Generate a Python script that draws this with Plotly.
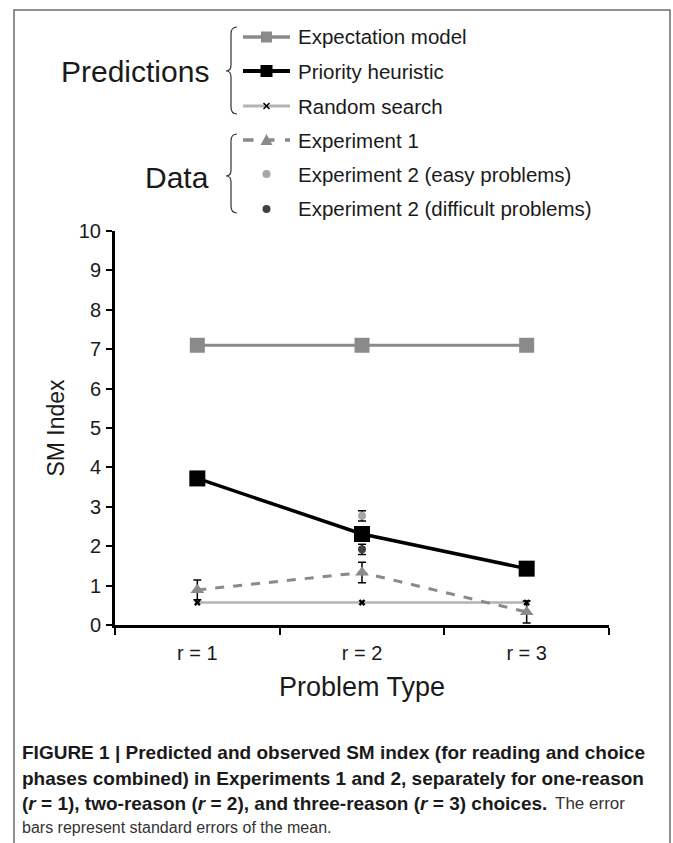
import plotly.graph_objects as go

# ---------------- data ----------------
categories = ["r = 1", "r = 2", "r = 3"]
expectation_model = [7.1, 7.1, 7.1]
priority_heuristic = [3.72, 2.31, 1.43]
random_search = [0.57, 0.57, 0.57]
experiment1 = [0.89, 1.33, 0.33]
experiment1_se = [0.25, 0.26, 0.28]
exp2_category = ["r = 2"]
exp2_easy = [2.77]
exp2_easy_se = [0.13]
exp2_difficult = [1.92]
exp2_difficult_se = [0.13]
y_ticks = [0, 1, 2, 3, 4, 5, 6, 7, 8, 9, 10]

W, H = 673, 843
PL, PR, PT, PB = 115, 609, 231, 625  # plot area in pixels

def px(x):
    return x / W

def py(y):
    return 1 - y / H

FONT = "Liberation Sans, Arial, Helvetica, sans-serif"

fig = go.Figure()

err_style = dict(type="data", color="black", thickness=1.5, width=4)

fig.add_trace(go.Scatter(
    x=categories, y=random_search, mode="lines+markers", name="Random search",
    line=dict(color="#b3b3b3", width=2.5),
    marker=dict(symbol="x", size=6, color="black"), cliponaxis=False))
fig.add_trace(go.Scatter(
    x=categories, y=expectation_model, mode="lines+markers", name="Expectation model",
    line=dict(color="#8a8a8a", width=3),
    marker=dict(symbol="square", size=15, color="#8a8a8a"), cliponaxis=False))
fig.add_trace(go.Scatter(
    x=categories, y=priority_heuristic, mode="lines+markers", name="Priority heuristic",
    line=dict(color="black", width=3.5),
    marker=dict(symbol="square", size=16, color="black"), cliponaxis=False))
fig.add_trace(go.Scatter(
    x=categories, y=experiment1, mode="lines+markers", name="Experiment 1",
    line=dict(color="#8a8a8a", width=3, dash="dash"),
    marker=dict(symbol="triangle-up", size=12, color="#8a8a8a"),
    error_y=dict(array=experiment1_se, **err_style), cliponaxis=False))
fig.add_trace(go.Scatter(
    x=exp2_category, y=exp2_easy, mode="markers", name="Experiment 2 (easy problems)",
    marker=dict(symbol="circle", size=8, color="#a6a6a6"),
    error_y=dict(array=exp2_easy_se, **err_style), cliponaxis=False))
fig.add_trace(go.Scatter(
    x=exp2_category, y=exp2_difficult, mode="markers", name="Experiment 2 (difficult problems)",
    marker=dict(symbol="circle", size=8, color="#404040"),
    error_y=dict(array=exp2_difficult_se, **err_style), cliponaxis=False))

shapes = []
annotations = []

# frame around the figure (bottom edge is outside the crop)
shapes.append(dict(type="path", xref="paper", yref="paper",
                   path=f"M {px(14)} {py(845)} L {px(14)} {py(10)} L {px(670)} {py(10)} L {px(670)} {py(845)}",
                   line=dict(color="#6e6e6e", width=1.5)))

# custom legend ------------------------------------------------------
LX0, LX1, LXM, TX = 243, 290, 266.5, 296
rows = [37, 71, 106, 140, 174, 209]
labels = ["Expectation model", "Priority heuristic", "Random search",
          "Experiment 1", "Experiment 2 (easy problems)", "Experiment 2 (difficult problems)"]

def hline(y, color, width, dash="solid"):
    shapes.append(dict(type="line", xref="paper", yref="paper",
                       x0=px(LX0), x1=px(LX1), y0=py(y), y1=py(y),
                       line=dict(color=color, width=width, dash=dash)))

def square(y, half, color):
    shapes.append(dict(type="rect", xref="paper", yref="paper",
                       x0=px(LXM - half), x1=px(LXM + half), y0=py(y - half), y1=py(y + half),
                       fillcolor=color, line=dict(width=0)))

hline(rows[0], "#8a8a8a", 3.5)
square(rows[0], 5.5, "#8a8a8a")
hline(rows[1], "black", 4)
square(rows[1], 6, "black")
hline(rows[2], "#b3b3b3", 3)
for d in (1, -1):
    shapes.append(dict(type="line", xref="paper", yref="paper",
                       x0=px(LXM - 3), x1=px(LXM + 3), y0=py(rows[2] - 3 * d), y1=py(rows[2] + 3 * d),
                       line=dict(color="black", width=1.5)))
hline(rows[3], "#8a8a8a", 3.5, "dash")
shapes.append(dict(type="path", xref="paper", yref="paper",
                   path=f"M {px(LXM - 6)} {py(rows[3] + 5)} L {px(LXM + 6)} {py(rows[3] + 5)} L {px(LXM)} {py(rows[3] - 6)} Z",
                   fillcolor="#8a8a8a", line=dict(width=0)))
for y, c in ((rows[4], "#a6a6a6"), (rows[5], "#404040")):
    shapes.append(dict(type="circle", xref="paper", yref="paper",
                       x0=px(LXM - 4), x1=px(LXM + 4), y0=py(y - 4), y1=py(y + 4),
                       fillcolor=c, line=dict(width=0)))

for y, t in zip(rows, labels):
    annotations.append(dict(x=px(TX), y=py(y), xref="paper", yref="paper", text=t,
                            showarrow=False, xanchor="left", yanchor="middle",
                            font=dict(family=FONT, size=20.5, color="#1a1a1a")))

# braces
def brace(y0, y1, ym, x=231):
    path = (f"M {px(x + 6)} {py(y0)} Q {px(x)} {py(y0)} {px(x)} {py(y0 + 7)} "
            f"L {px(x)} {py(ym - 6)} Q {px(x)} {py(ym)} {px(x - 5)} {py(ym)} "
            f"Q {px(x)} {py(ym)} {px(x)} {py(ym + 6)} "
            f"L {px(x)} {py(y1 - 7)} Q {px(x)} {py(y1)} {px(x + 6)} {py(y1)}")
    shapes.append(dict(type="path", xref="paper", yref="paper", path=path,
                       line=dict(color="#333333", width=1.2)))

brace(27, 114, 71)
brace(134, 213, 176)

annotations.append(dict(x=px(211), y=py(72), xref="paper", yref="paper", text="Predictions",
                        showarrow=False, xanchor="right", yanchor="middle",
                        font=dict(family=FONT, size=30, color="#1a1a1a")))
annotations.append(dict(x=px(211), y=py(177), xref="paper", yref="paper", text="Data",
                        showarrow=False, xanchor="right", yanchor="middle",
                        font=dict(family=FONT, size=30, color="#1a1a1a")))

# caption ------------------------------------------------------------
bold_lines = [
    "<b>FIGURE 1 | Predicted and observed SM index (for reading and choice</b>",
    "<b>phases combined) in Experiments 1 and 2, separately for one-reason</b>",
    "<b>(<i>r</i> = 1), two-reason (<i>r</i> = 2), and three-reason (<i>r</i> = 3) choices.</b>",
]
cap_y = [752, 778, 803, 827]
for t, y in zip(bold_lines, cap_y):
    annotations.append(dict(x=px(20), y=py(y), xref="paper", yref="paper", text=t,
                            showarrow=False, xanchor="left", yanchor="middle",
                            font=dict(family=FONT, size=19, color="#1a1a1a")))
annotations.append(dict(x=px(553), y=py(cap_y[2]), xref="paper", yref="paper", text="The error",
                        showarrow=False, xanchor="left", yanchor="middle",
                        font=dict(family=FONT, size=17, color="#333333")))
annotations.append(dict(x=px(20), y=py(cap_y[3]), xref="paper", yref="paper",
                        text="bars represent standard errors of the mean.",
                        showarrow=False, xanchor="left", yanchor="middle",
                        font=dict(family=FONT, size=16, color="#333333")))

fig.update_layout(
    width=W, height=H,
    margin=dict(l=0, r=0, t=0, b=0),
    paper_bgcolor="white", plot_bgcolor="white",
    showlegend=False,
    font=dict(family=FONT, color="#1a1a1a"),
    shapes=shapes, annotations=annotations,
    xaxis=dict(domain=[px(PL), px(PR)], type="category", range=[-0.5, 2.5],
               categoryorder="array", categoryarray=categories,
               tickson="boundaries", ticks="outside", ticklen=7, tickwidth=2, tickcolor="black",
               showline=True, linewidth=3, linecolor="black", showgrid=False, zeroline=False,
               tickfont=dict(size=20, family=FONT, color="#1a1a1a"), ticklabelstandoff=8,
               title=dict(text="Problem Type", font=dict(size=27, family=FONT, color="#1a1a1a"), standoff=15),
               automargin=False, fixedrange=True),
    yaxis=dict(domain=[py(PB), py(PT)], range=[0, 10], tickmode="array", tickvals=y_ticks,
               ticks="outside", ticklen=6, tickwidth=2, tickcolor="black",
               showline=True, linewidth=3, linecolor="black", showgrid=False, zeroline=False,
               tickfont=dict(size=20, family=FONT, color="#1a1a1a"), ticklabelstandoff=1,
               title=dict(text="SM Index", font=dict(size=23, family=FONT, color="#1a1a1a"), standoff=8),
               automargin=False, fixedrange=True),
)

fig.write_html(
    "out.html",
    config={"displayModeBar": False},
    post_script="document.body.style.margin='0';document.body.style.overflow='hidden';"
                "document.documentElement.style.overflow='hidden';",
)
